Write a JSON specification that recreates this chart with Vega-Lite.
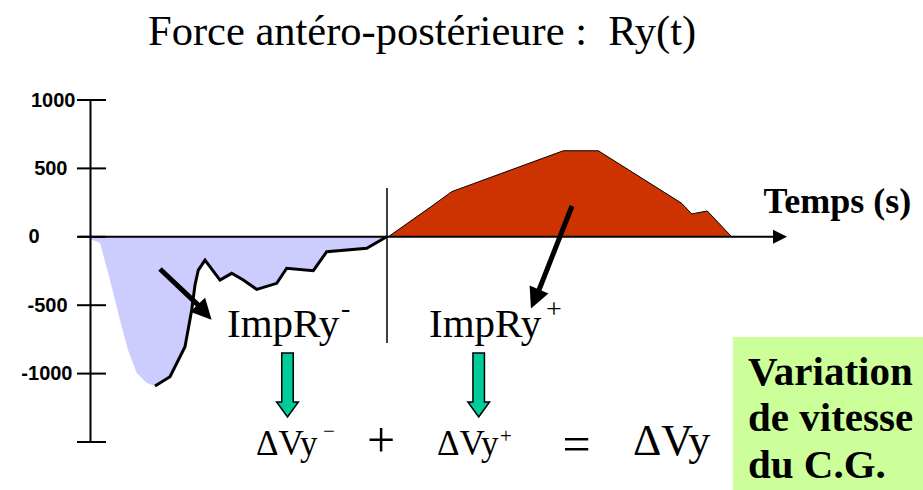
{
  "$schema": "https://vega.github.io/schema/vega-lite/v6.json",
  "width": 695,
  "height": 342,
  "autosize": {"type": "none"},
  "padding": {"left": 90, "top": 100, "right": 138, "bottom": 48},
  "background": "white",
  "config": {"view": {"stroke": null}, "font": "Liberation Serif"},
  "title": {
    "text": "Force antéro-postérieure :\u00a0\u00a0Ry(t)",
    "font": "Liberation Serif",
    "fontSize": 42.5,
    "fontWeight": "normal",
    "color": "black",
    "anchor": "start",
    "frame": "group",
    "dx": 58,
    "baseline": "alphabetic",
    "offset": 3
  },
  "datasets": {
    "curve": [
      {"phase": "freinage", "t": -0.005, "F": 0},
      {"phase": "freinage", "t": 0.0, "F": -16},
      {"phase": "freinage", "t": 0.010, "F": -45},
      {"phase": "freinage", "t": 0.020, "F": -316},
      {"phase": "freinage", "t": 0.030, "F": -608},
      {"phase": "freinage", "t": 0.038, "F": -827},
      {"phase": "freinage", "t": 0.0467, "F": -996},
      {"phase": "freinage", "t": 0.0567, "F": -1069},
      {"phase": "freinage", "t": 0.065, "F": -1091},
      {"phase": "freinage", "t": 0.080, "F": -1023},
      {"phase": "freinage", "t": 0.095, "F": -803},
      {"phase": "freinage", "t": 0.1017, "F": -535},
      {"phase": "freinage", "t": 0.105, "F": -352},
      {"phase": "freinage", "t": 0.1083, "F": -243},
      {"phase": "freinage", "t": 0.115, "F": -170},
      {"phase": "freinage", "t": 0.130, "F": -316},
      {"phase": "freinage", "t": 0.1417, "F": -267},
      {"phase": "freinage", "t": 0.1533, "F": -316},
      {"phase": "freinage", "t": 0.1667, "F": -384},
      {"phase": "freinage", "t": 0.1867, "F": -340},
      {"phase": "freinage", "t": 0.1967, "F": -230},
      {"phase": "freinage", "t": 0.2233, "F": -248},
      {"phase": "freinage", "t": 0.2367, "F": -109},
      {"phase": "freinage", "t": 0.2567, "F": -96},
      {"phase": "freinage", "t": 0.2767, "F": -84},
      {"phase": "freinage", "t": 0.2967, "F": 0},
      {"phase": "propulsion", "t": 0.2983, "F": 0},
      {"phase": "propulsion", "t": 0.3433, "F": 232},
      {"phase": "propulsion", "t": 0.3617, "F": 330},
      {"phase": "propulsion", "t": 0.4733, "F": 629},
      {"phase": "propulsion", "t": 0.5083, "F": 629},
      {"phase": "propulsion", "t": 0.5917, "F": 245},
      {"phase": "propulsion", "t": 0.6017, "F": 167},
      {"phase": "propulsion", "t": 0.6173, "F": 189},
      {"phase": "propulsion", "t": 0.6417, "F": 0}
    ],
    "yticks": [{"F": 1000}, {"F": 500}, {"F": 0}, {"F": -500}, {"F": -1000}, {"F": -1500}],
    "baseline": [{"t0": -0.012, "t1": 0.684, "F": 0}],
    "axisArrow": [{"t": 0.690, "F": 0}],
    "divider": [{"t": 0.297, "F0": 357, "F1": -776}],
    "arrows": [
      {"name": "ImpRy-", "t0": 0.070, "F0": -235, "t1": 0.109, "F1": -505, "th": 0.1146, "Fh": -551, "dir": 137},
      {"name": "ImpRy+", "t0": 0.482, "F0": 225, "t1": 0.449, "F1": -389, "th": 0.445, "Fh": -455, "dir": 203}
    ],
    "greenArrows": [{"t": 0.1975, "F": -1083}, {"t": 0.3887, "F": -1083}],
    "box": [{"t0": 0.643, "t1": 0.84, "F0": -732, "F1": -1900}],
    "labels": [
      {"role": "impulse", "t": 0.137, "F": -732, "label": "ImpRy"},
      {"role": "impulse", "t": 0.339, "F": -732, "label": "ImpRy"},
      {"role": "impulse_sup", "t": 0.251, "F": -586, "label": "-"},
      {"role": "impulse_sup", "t": 0.456, "F": -594, "label": "+"},
      {"role": "dv", "t": 0.166, "F": -1595, "label": "ΔVy"},
      {"role": "dv", "t": 0.347, "F": -1598, "label": "ΔVy"},
      {"role": "dv_sup", "t": 0.233, "F": -1473, "label": "−"},
      {"role": "dv_sup", "t": 0.410, "F": -1507, "label": "+"},
      {"role": "operator", "t": 0.291, "F": -1610, "label": "+"},
      {"role": "operator", "t": 0.4865, "F": -1639, "label": "="},
      {"role": "total", "t": 0.543, "F": -1595, "label": "ΔVy"},
      {"role": "box", "t": 0.658, "F": -1083, "label": "Variation\nde vitesse\ndu C.G."}
    ]
  },
  "layer": [
    {
      "data": {"name": "box"},
      "mark": {"type": "rect", "color": "#CCFF99"},
      "encoding": {
        "x": {"field": "t0", "type": "quantitative"},
        "x2": {"field": "t1"},
        "y": {"field": "F0", "type": "quantitative"},
        "y2": {"field": "F1"}
      }
    },
    {
      "data": {"name": "curve"},
      "mark": {"type": "area", "opacity": 1},
      "encoding": {
        "x": {
          "field": "t", "type": "quantitative",
          "scale": {"domain": [0, 0.695], "nice": false, "zero": false},
          "axis": {
            "title": "Temps (s)",
            "domain": false, "ticks": false, "labels": false, "grid": false,
            "titleFont": "Liberation Serif", "titleFontWeight": "bold", "titleFontSize": 36,
            "titleColor": "black", "titleX": 673, "titleY": -230,
            "titleAlign": "left", "titleBaseline": "alphabetic", "titleAngle": 0
          }
        },
        "y": {
          "field": "F", "type": "quantitative",
          "scale": {"domain": [-1500, 1000], "nice": false},
          "axis": {
            "title": null,
            "values": [1000, 500, 0, -500, -1000],
            "labelExpr": "'' + datum.value",
            "domain": true, "domainColor": "black", "domainWidth": 2,
            "ticks": false, "tickSize": 0, "grid": false, "zindex": 1,
            "labelFont": "Liberation Sans", "labelFontWeight": "bold", "labelFontSize": 20,
            "labelColor": "black", "labelOverlap": false,
            "labelPadding": {
              "condition": [
                {"test": "datum.value == 0", "value": 51},
                {"test": "abs(datum.value) == 500", "value": 23},
                {"test": "datum.value == -1000", "value": 18}
              ],
              "value": 15
            }
          }
        },
        "color": {
          "field": "phase", "type": "nominal",
          "scale": {"domain": ["freinage", "propulsion"], "range": ["#CCCCFF", "#CC3300"]},
          "legend": null
        }
      }
    },
    {
      "data": {"name": "curve"},
      "transform": [{"filter": "datum.phase == 'freinage' && datum.t >= 0.06"}],
      "mark": {"type": "line", "color": "black", "strokeWidth": 3},
      "encoding": {
        "x": {"field": "t", "type": "quantitative"},
        "y": {"field": "F", "type": "quantitative"}
      }
    },
    {
      "data": {"name": "curve"},
      "transform": [{"filter": "datum.phase == 'propulsion'"}],
      "mark": {"type": "line", "color": "black", "strokeWidth": 1},
      "encoding": {
        "x": {"field": "t", "type": "quantitative"},
        "y": {"field": "F", "type": "quantitative"}
      }
    },
    {
      "data": {"name": "baseline"},
      "mark": {"type": "rule", "color": "black", "strokeWidth": 2},
      "encoding": {
        "x": {"field": "t0", "type": "quantitative"},
        "x2": {"field": "t1"},
        "y": {"field": "F", "type": "quantitative"}
      }
    },
    {
      "data": {"name": "axisArrow"},
      "mark": {"type": "point", "shape": "M -1 -1 L 1 0 L -1 1 Z", "size": 196, "filled": true, "color": "black", "opacity": 1},
      "encoding": {
        "x": {"field": "t", "type": "quantitative"},
        "y": {"field": "F", "type": "quantitative"}
      }
    },
    {
      "data": {"name": "yticks"},
      "mark": {"type": "rule", "color": "black", "strokeWidth": 2},
      "encoding": {
        "x": {"datum": -0.013, "type": "quantitative"},
        "x2": {"datum": 0.016},
        "y": {"field": "F", "type": "quantitative"}
      }
    },
    {
      "data": {"name": "divider"},
      "mark": {"type": "rule", "color": "black", "strokeWidth": 1.5},
      "encoding": {
        "x": {"field": "t", "type": "quantitative"},
        "y": {"field": "F0", "type": "quantitative"},
        "y2": {"field": "F1"}
      }
    },
    {
      "data": {"name": "arrows"},
      "mark": {"type": "rule", "color": "black", "strokeWidth": 5},
      "encoding": {
        "x": {"field": "t0", "type": "quantitative"},
        "y": {"field": "F0", "type": "quantitative"},
        "x2": {"field": "t1"},
        "y2": {"field": "F1"}
      }
    },
    {
      "data": {"name": "arrows"},
      "mark": {"type": "point", "shape": "M 0 -1 L 1 1 L -1 1 Z", "size": 420, "filled": true, "color": "black", "opacity": 1},
      "encoding": {
        "x": {"field": "th", "type": "quantitative"},
        "y": {"field": "Fh", "type": "quantitative"},
        "angle": {"field": "dir", "type": "quantitative", "scale": null}
      }
    },
    {
      "data": {"name": "greenArrows"},
      "mark": {
        "type": "point",
        "shape": "M -0.18 -1 L 0.18 -1 L 0.18 0.53 L 0.34 0.53 L 0 1 L -0.34 0.53 L -0.18 0.53 Z",
        "size": 4096, "filled": true, "fill": "#00CC99", "stroke": "black", "strokeWidth": 1.5, "opacity": 1
      },
      "encoding": {
        "x": {"field": "t", "type": "quantitative"},
        "y": {"field": "F", "type": "quantitative"}
      }
    },
    {
      "data": {"name": "labels"},
      "transform": [{"filter": "datum.role == 'impulse'"}],
      "mark": {"type": "text", "font": "Liberation Serif", "fontSize": 41, "align": "left", "baseline": "alphabetic", "color": "black"},
      "encoding": {
        "x": {"field": "t", "type": "quantitative"},
        "y": {"field": "F", "type": "quantitative"},
        "text": {"field": "label"}
      }
    },
    {
      "data": {"name": "labels"},
      "transform": [{"filter": "datum.role == 'impulse_sup'"}],
      "mark": {"type": "text", "font": "Liberation Serif", "fontSize": 28, "align": "left", "baseline": "alphabetic", "color": "black"},
      "encoding": {
        "x": {"field": "t", "type": "quantitative"},
        "y": {"field": "F", "type": "quantitative"},
        "text": {"field": "label"}
      }
    },
    {
      "data": {"name": "labels"},
      "transform": [{"filter": "datum.role == 'dv'"}],
      "mark": {"type": "text", "font": "Liberation Serif", "fontSize": 35, "align": "left", "baseline": "alphabetic", "color": "black"},
      "encoding": {
        "x": {"field": "t", "type": "quantitative"},
        "y": {"field": "F", "type": "quantitative"},
        "text": {"field": "label"}
      }
    },
    {
      "data": {"name": "labels"},
      "transform": [{"filter": "datum.role == 'dv_sup'"}],
      "mark": {"type": "text", "font": "Liberation Serif", "fontSize": 21, "align": "left", "baseline": "alphabetic", "color": "black"},
      "encoding": {
        "x": {"field": "t", "type": "quantitative"},
        "y": {"field": "F", "type": "quantitative"},
        "text": {"field": "label"}
      }
    },
    {
      "data": {"name": "labels"},
      "transform": [{"filter": "datum.role == 'operator'"}],
      "mark": {"type": "text", "font": "Liberation Serif", "fontSize": 50, "align": "center", "baseline": "alphabetic", "color": "black"},
      "encoding": {
        "x": {"field": "t", "type": "quantitative"},
        "y": {"field": "F", "type": "quantitative"},
        "text": {"field": "label"}
      }
    },
    {
      "data": {"name": "labels"},
      "transform": [{"filter": "datum.role == 'total'"}],
      "mark": {"type": "text", "font": "Liberation Serif", "fontSize": 44, "align": "left", "baseline": "alphabetic", "color": "black"},
      "encoding": {
        "x": {"field": "t", "type": "quantitative"},
        "y": {"field": "F", "type": "quantitative"},
        "text": {"field": "label"}
      }
    },
    {
      "data": {"name": "labels"},
      "transform": [{"filter": "datum.role == 'box'"}],
      "mark": {"type": "text", "font": "Liberation Serif", "fontSize": 41, "fontWeight": "bold", "align": "left", "baseline": "alphabetic", "color": "black", "lineBreak": "\n", "lineHeight": 46.5},
      "encoding": {
        "x": {"field": "t", "type": "quantitative"},
        "y": {"field": "F", "type": "quantitative"},
        "text": {"field": "label"}
      }
    }
  ]
}
